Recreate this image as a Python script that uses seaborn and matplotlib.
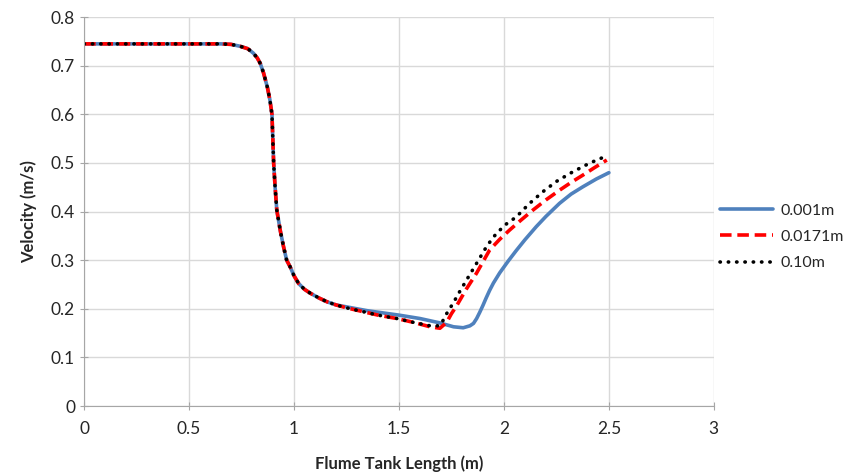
import seaborn as sns
import matplotlib.pyplot as plt
import numpy as np
import pandas as pd

# shared upstream part of all three profiles
x_common = [0, 0.1, 0.2, 0.3, 0.4, 0.5, 0.6, 0.65, 0.7, 0.744, 0.78, 0.806, 0.825,
            0.839, 0.855, 0.873, 0.885, 0.895, 0.903, 0.91, 0.918, 0.935, 0.95,
            0.965, 0.982, 1.0, 1.022, 1.05, 1.078, 1.12, 1.157, 1.2]
v_common = [0.745, 0.745, 0.745, 0.745, 0.745, 0.745, 0.745, 0.745, 0.744, 0.74,
            0.735, 0.726, 0.716, 0.705, 0.685, 0.656, 0.63, 0.60, 0.50, 0.45,
            0.403, 0.36, 0.328, 0.30, 0.286, 0.268, 0.252, 0.24, 0.232, 0.222,
            0.2145, 0.208]

x_001 = [1.25, 1.3, 1.35, 1.4, 1.5, 1.6, 1.695, 1.727, 1.76, 1.806, 1.838, 1.855,
         1.87, 1.885, 1.9, 1.915, 1.932, 1.95, 1.98, 2.02, 2.059, 2.1, 2.154, 2.2,
         2.265, 2.32, 2.376, 2.44, 2.5]
v_001 = [0.204, 0.2, 0.196, 0.193, 0.187, 0.18, 0.171, 0.167, 0.163, 0.161, 0.165,
         0.17, 0.18, 0.193, 0.207, 0.222, 0.238, 0.253, 0.274, 0.298, 0.32, 0.342,
         0.369, 0.39, 0.417, 0.436, 0.451, 0.467, 0.48]

x_0171 = [1.25, 1.3, 1.35, 1.4, 1.49, 1.57, 1.648, 1.695, 1.727, 1.75, 1.773, 1.82,
          1.869, 1.932, 1.98, 2.027, 2.08, 2.138, 2.2, 2.265, 2.32, 2.376, 2.43,
          2.49]
v_0171 = [0.202, 0.197, 0.192, 0.187, 0.18, 0.172, 0.163, 0.16, 0.172, 0.19, 0.205,
          0.24, 0.273, 0.321, 0.343, 0.362, 0.382, 0.403, 0.424, 0.444, 0.46, 0.475,
          0.49, 0.506]

x_010 = [1.25, 1.3, 1.35, 1.4, 1.49, 1.57, 1.648, 1.69, 1.70, 1.727, 1.76, 1.79,
         1.83, 1.869, 1.92, 1.964, 2.01, 2.059, 2.12, 2.186, 2.25, 2.329, 2.41,
         2.497]
v_010 = [0.202, 0.197, 0.192, 0.187, 0.18, 0.172, 0.165, 0.165, 0.168, 0.19, 0.213,
         0.236, 0.265, 0.293, 0.33, 0.355, 0.374, 0.389, 0.416, 0.441, 0.462, 0.482,
         0.50, 0.516]

labels = ["0.001m", "0.0171m", "0.10m"]
colors = ["#4F81BD", "#FF0000", "#000000"]

sns.set_style("white")
plt.rcParams['font.family'] = ['Lato', 'DejaVu Sans']

fig = plt.figure(figsize=(8.58, 4.76), dpi=100)
ax = fig.add_axes([0.098, 0.147, 0.734, 0.817])

series = [(x_001, v_001), (x_0171, v_0171), (x_010, v_010)]
for (xs, vs), lab, col in zip(series, labels, colors):
    df = pd.DataFrame({"x": x_common + xs, "v": v_common + vs})
    sns.lineplot(data=df, x="x", y="v", sort=False, color=col, label=lab, ax=ax)

lines = ax.get_lines()
lines[0].set_linewidth(2.6)
lines[1].set_linewidth(2.6)
lines[1].set_dashes([3.2, 1.6])
lines[2].set_linewidth(2.6)
lines[2].set_dashes([0.1, 2.2])
lines[2].set_dash_capstyle("round")

ax.set_xlim(0, 3)
ax.set_ylim(0, 0.8)
ax.set_xticks(np.arange(0, 3.01, 0.5))
ax.set_xticklabels(["0", "0.5", "1", "1.5", "2", "2.5", "3"])
ax.set_yticks(np.arange(0, 0.81, 0.1))
ax.set_yticklabels(["0", "0.1", "0.2", "0.3", "0.4", "0.5", "0.6", "0.7", "0.8"])
ax.grid(True, color="#D9D9D9", linewidth=1)
ax.set_axisbelow(True)
for s in ["top", "right"]:
    ax.spines[s].set_visible(False)
for s in ["left", "bottom"]:
    ax.spines[s].set_color("#A6A6A6")
ax.tick_params(axis="both", direction="inout", length=6, color="#A6A6A6",
               labelsize=12.5, labelcolor="#262626", left=True, bottom=True)
ax.tick_params(axis="x", pad=8)

ax.set_xlabel("Flume Tank Length (m)", fontsize=12, fontweight="bold", labelpad=13)
ax.set_ylabel("Velocity (m/s)", fontsize=12, fontweight="bold", labelpad=10)

ax.legend(loc="center left", bbox_to_anchor=(1.0, 0.435), frameon=False,
          fontsize=11.5, handlelength=3.3, handletextpad=0.5, labelspacing=0.75,
          borderaxespad=0.2, borderpad=0.2)

fig.savefig("out.png", dpi=100)
